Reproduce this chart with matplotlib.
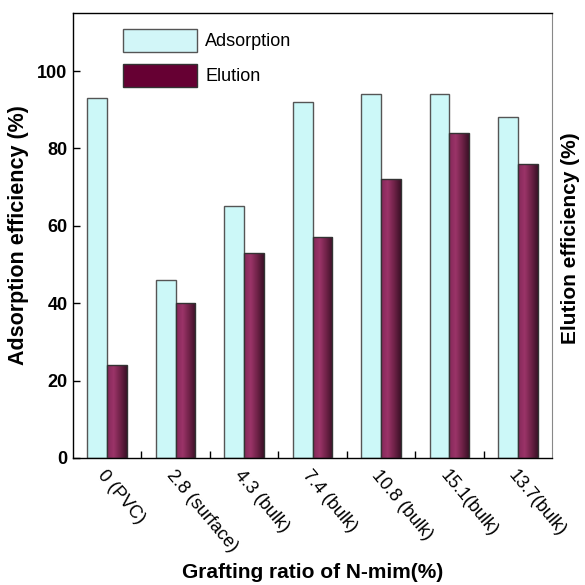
import numpy as np
import matplotlib.pyplot as plt
from matplotlib.colors import LinearSegmentedColormap
from matplotlib.patches import Patch

plt.rcParams['font.family'] = ['Liberation Sans', 'DejaVu Sans']

# data
groups = ['0 (PVC)', '2.8 (surface)', '4.3 (bulk)', '7.4 (bulk)',
          '10.8 (bulk)', '15.1(bulk)', '13.7(bulk)']
adsorption = [93, 46, 65, 92, 94, 94, 88]
elution = [24, 40, 53, 57, 72, 84, 76]

x = np.arange(len(groups))
w = 0.29

fig = plt.figure(figsize=(5.85, 5.85), dpi=100)
ax = fig.add_axes([73 / 585, 1 - 458 / 585, 479 / 585, 445 / 585])

ads_bars = ax.bar(x - w / 2, adsorption, w, color='#ccf8f8', edgecolor='#555555', linewidth=1.0, zorder=2)
elu_bars = ax.bar(x + w / 2, elution, w, color='none', edgecolor='#333333', linewidth=1.0, zorder=3)

# gradient fill for elution bars
grad = LinearSegmentedColormap.from_list('elu', ['#84285a', '#9b3468', '#6f2248', '#3c1127'])
g = np.linspace(0, 1, 64).reshape(1, -1)
for b in elu_bars:
    bx, by = b.get_x(), b.get_y()
    im = ax.imshow(g, cmap=grad, aspect='auto', extent=[bx, bx + b.get_width(), by, by + b.get_height()],
                   zorder=2.5, interpolation='bilinear')
    im.set_clip_path(b)

ax.set_xlim(-0.5, len(groups) - 0.5)
ax.set_ylim(0, 115)

ax.set_yticks([0, 20, 40, 60, 80, 100])
ax.tick_params(axis='y', direction='in', length=5, width=1, labelsize=13, pad=4)
for t in ax.get_yticklabels():
    t.set_fontweight('bold')

# ticks between groups, no labels there
ax.set_xticks(x[:-1] + 0.5)
ax.set_xticklabels([])
ax.tick_params(axis='x', direction='in', length=5, width=1)
for i, name in enumerate(groups):
    ax.text(i - 0.0, -2.3, name, rotation=-50, rotation_mode='anchor', ha='left', va='top', fontsize=13)

ax.set_ylabel('Adsorption efficiency (%)', fontsize=15.5, fontweight='bold', labelpad=6)
fig.text(0.5 * (73 + 552) / 585, 1 - 573 / 585, 'Grafting ratio of N-mim(%)', ha='center', va='center',
         fontsize=15, fontweight='bold')
fig.text(570 / 585, 1 - 238 / 585, 'Elution efficiency (%)', rotation=90, ha='center', va='center',
         fontsize=15, fontweight='bold')

ax.spines['right'].set_color('#888888')
for s in ['left', 'bottom', 'top']:
    ax.spines[s].set_linewidth(1.0)

handles = [Patch(facecolor='#d2f6f8', edgecolor='#555555', label='Adsorption'),
           Patch(facecolor='#660033', edgecolor='#333333', label='Elution')]
ax.legend(handles=handles, loc='upper left', bbox_to_anchor=(50 / 479, 1 - 16 / 445), frameon=False,
          fontsize=13, handlelength=4.1, handleheight=1.55, labelspacing=0.7, handletextpad=0.45,
          borderpad=0, borderaxespad=0)

fig.savefig('out.png', dpi=100)
